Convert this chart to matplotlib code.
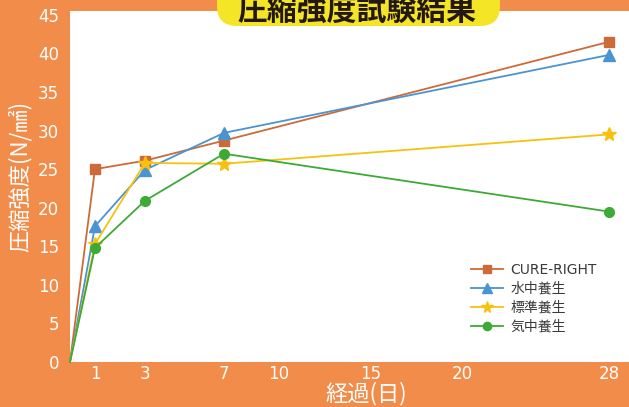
import numpy as np
import matplotlib
matplotlib.use("Agg")
import matplotlib.pyplot as plt
from matplotlib.patches import FancyBboxPatch
from matplotlib.transforms import IdentityTransform

plt.rcParams['font.family'] = ['Noto Sans CJK JP', 'DejaVu Sans']

# ---- data ----
days = [0, 1, 3, 7, 28]
cure_right = [0, 25.0, 26.1, 28.7, 41.5]
suichu = [0, 17.6, 24.9, 29.7, 39.8]
hyojun = [0, 15.3, 25.8, 25.7, 29.5]
kichu = [0, 14.8, 20.9, 27.0, 19.5]
series_names = ["CURE-RIGHT", "水中養生", "標準養生", "気中養生"]
x_ticks = [1, 3, 7, 10, 15, 20, 28]
y_ticks = [0, 5, 10, 15, 20, 25, 30, 35, 40, 45]
title = "圧縮強度試験結果"
ylabel = "圧縮強度(N/㎟)"
xlabel = "経過(日)"

# non-uniform day axis of the original (piecewise-linear scale)
knot_days = np.array([-10, 0, 1, 3, 7, 28, 60])
knot_pos = np.array([-250, 0, 25, 75, 154, 539, 539 + 32 * 18.33])

def fwd(x):
    return np.interp(x, knot_days, knot_pos)

def inv(p):
    return np.interp(p, knot_pos, knot_days)

BG = '#F18C4A'
colors = ['#CD6B38', '#4A94D2', '#F7C10E', '#3DAA36']
markers = ['s', '^', '*', 'o']
msizes = [7, 8, 10, 7]

W, H = 629, 407
fig = plt.figure(figsize=(W / 100, H / 100), dpi=100, facecolor=BG)
ax = fig.add_axes([70 / W, (H - 362) / H, (W - 70) / W, (362 - 11) / H])
ax.set_facecolor('white')
ax.set_xscale('function', functions=(fwd, inv))

for vals, name, c, m, ms in zip([cure_right, suichu, hyojun, kichu],
                                series_names, colors, markers, msizes):
    ax.plot(days, vals, color=c, lw=1.3, marker=m, markersize=ms,
            markevery=list(range(1, len(days))), label=name,
            clip_on=False)

ax.set_xlim(0, 29.1)
ax.set_ylim(0, 45.5)
ax.set_xticks(x_ticks)
ax.set_xticklabels([str(t) for t in x_ticks])
ax.set_yticks(y_ticks)
ax.minorticks_off()
for s in ax.spines.values():
    s.set_visible(False)
ax.tick_params(axis='both', length=0, colors='white', labelsize=12)
ax.tick_params(axis='y', pad=8)
ax.tick_params(axis='x', pad=2.5)
for lab in ax.get_xticklabels() + ax.get_yticklabels():
    lab.set_family('DejaVu Sans')

leg = ax.legend(loc='lower right', bbox_to_anchor=(0.965, 0.045), frameon=False,
                prop={'family': ['DejaVu Sans', 'Noto Sans CJK JP'], 'size': 10},
                handlelength=2.3, handletextpad=0.55,
                labelspacing=0.36, markerscale=0.85, labelcolor='#3a3a3a')

# axis labels
fig.text(20 / W, (H - 176) / H, ylabel, rotation=90, color='white',
         fontsize=16, ha='center', va='center')
fig.text(366 / W, (H - 394) / H, xlabel, color='white',
         fontsize=16, ha='center', va='center')

# title badge
box = FancyBboxPatch((217, H - 26), 283, 60,
                     boxstyle="round,pad=0,rounding_size=20",
                     transform=IdentityTransform(), facecolor='#F4E526',
                     edgecolor='none', zorder=5)
fig.add_artist(box)
fig.text(357 / W, (H - 20) / H, title, color='#231815', fontsize=21.5,
         fontweight='bold', ha='center', va='baseline', zorder=6)

fig.savefig('out.png', dpi=100, facecolor=BG)
